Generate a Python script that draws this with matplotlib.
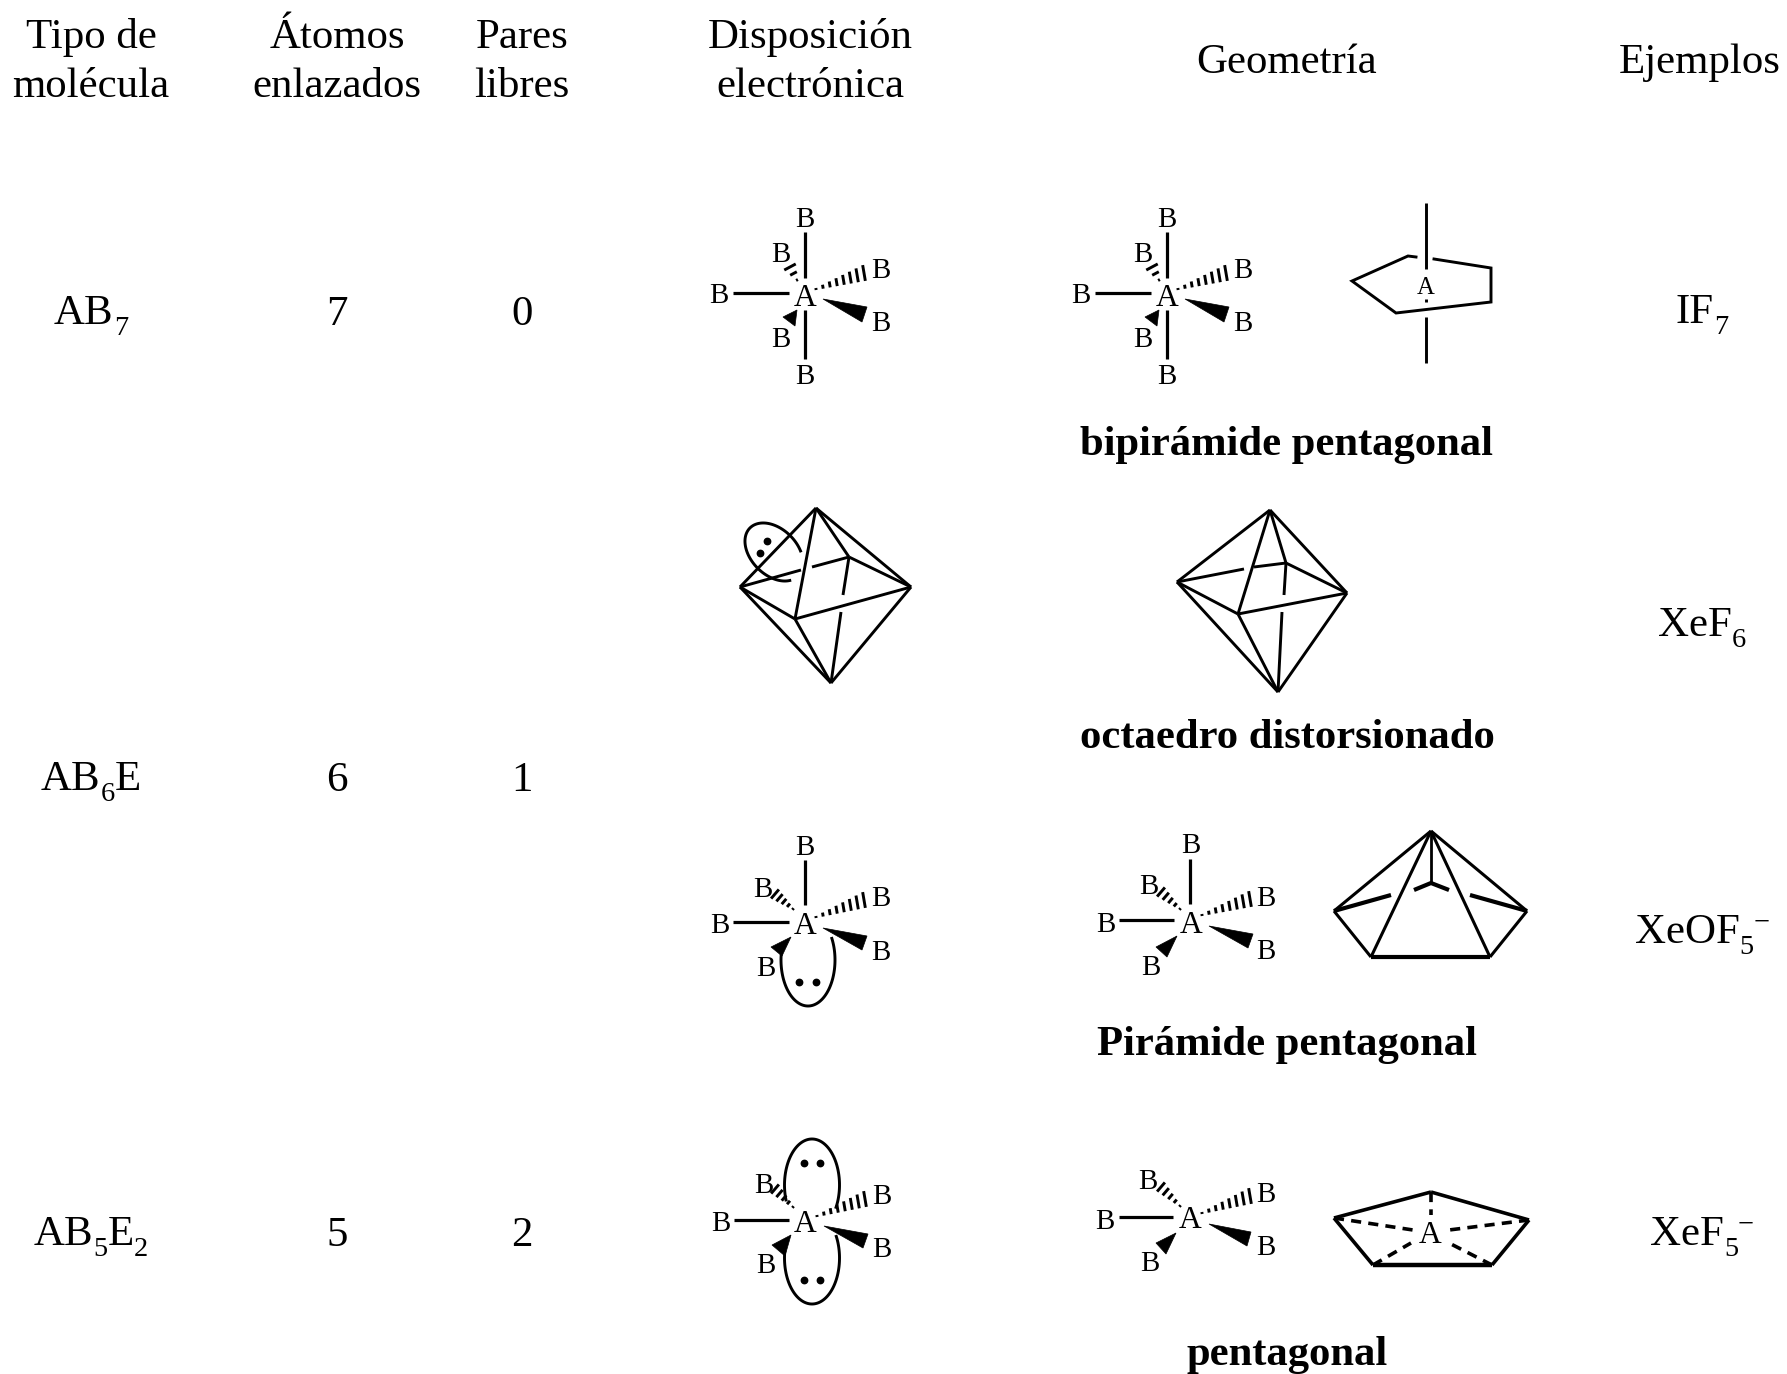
import numpy as np
import matplotlib
matplotlib.use("Agg")
import matplotlib.pyplot as plt
from matplotlib.patches import Polygon
from matplotlib.font_manager import FontProperties

plt.rcParams['font.family'] = ['Liberation Serif', 'DejaVu Serif']

# ---- table content ----
headers = [(91, ["Tipo de", "molécula"]), (337, ["Átomos", "enlazados"]), (522, ["Pares", "libres"]),
           (810, ["Disposición", "electrónica"]), (1287, ["Geometría"]), (1700, ["Ejemplos"])]
# formula runs: text, kind (n normal, d subscript, u superscript)
mol_types = [[("AB", "n"), ("7", "d")],
             [("AB", "n"), ("6", "d"), ("E", "n")],
             [("AB", "n"), ("5", "d"), ("E", "n"), ("2", "d")]]
bonded = ["7", "6", "5"]
lone = ["0", "1", "2"]
row_y = [310, 776, 1231]
examples = [[("IF", "n"), ("7", "d")],
            [("XeF", "n"), ("6", "d")],
            [("XeOF", "n"), ("5", "d"), ("\u2212", "u")],
            [("XeF", "n"), ("5", "d"), ("\u2212", "u")]]
example_y = [309, 622, 929, 1231]
geom_names = ["bipirámide pentagonal", "octaedro distorsionado", "Pirámide pentagonal", "pentagonal"]
geom_y = [441, 734, 1040, 1351]

# ---- molecule drawings (pixel layout of the reference) ----
ab7_disp = dict(
    A=(805, 295),
    B=[(805, 217), (781, 252), (881, 268), (719, 293), (881, 321), (781, 337), (805, 374)],
    solid=[((805, 232), (805, 278)), ((805, 310), (805, 359)), ((733, 293), (789, 293))],
    hash=[((816, 289), (864, 273), 8, (0.17, 1), 8), ((797, 280), (790, 267), 3, (0.88, -0.47), 6.5)],
    wedge=[((823, 299), (867, 307), (862, 322)), ((797, 310), (783, 317), (795, 326))])
ab7_geom = dict(
    A=(1167, 295),
    B=[(1167, 217), (1143, 252), (1243, 268), (1081, 293), (1243, 321), (1143, 337), (1167, 374)],
    solid=[((1167, 232), (1167, 278)), ((1167, 310), (1167, 359)), ((1095, 293), (1151, 293))],
    hash=[((1178, 289), (1226, 273), 8, (0.17, 1), 8), ((1159, 280), (1152, 267), 3, (0.88, -0.47), 6.5)],
    wedge=[((1185, 299), (1229, 307), (1224, 322)), ((1159, 310), (1145, 317), (1157, 326))])
ab6e_disp = dict(
    A=(805, 923),
    B=[(805, 845), (763, 887), (881, 896), (720, 923), (881, 950), (766, 966)],
    solid=[((805, 860), (805, 905)), ((733, 922), (789, 922))],
    hash=[((816, 917), (864, 900), 8, (0.17, 1), 8), ((793, 909), (775, 894), 5, (0.65, -0.76), 6)],
    wedge=[((823, 928), (867, 936), (862, 950)), ((791, 937), (771, 947), (782, 956))])
ab6e_geom = dict(
    A=(1191, 922),
    B=[(1191, 843), (1149, 884), (1266, 896), (1106, 922), (1266, 949), (1151, 965)],
    solid=[((1190, 859), (1190, 904)), ((1119, 920), (1174, 920))],
    hash=[((1202, 915), (1250, 899), 8, (0.17, 1), 8), ((1180, 909), (1161, 892), 5, (0.65, -0.76), 6)],
    wedge=[((1209, 926), (1253, 934), (1248, 948)), ((1177, 936), (1156, 947), (1167, 957))])
ab5e2_disp = dict(
    A=(805, 1221),
    B=[(764, 1183), (882, 1194), (721, 1221), (882, 1247), (766, 1263)],
    solid=[((734, 1220), (789, 1220))],
    hash=[((817, 1216), (865, 1199), 8, (0.17, 1), 8), ((793, 1207), (775, 1189), 5, (0.65, -0.76), 6)],
    wedge=[((824, 1226), (868, 1234), (863, 1248)), ((791, 1235), (772, 1245), (785, 1256))])
ab5e2_geom = dict(
    A=(1190, 1217),
    B=[(1148, 1179), (1266, 1192), (1105, 1219), (1266, 1245), (1150, 1261)],
    solid=[((1119, 1217), (1173, 1217))],
    hash=[((1202, 1213), (1250, 1196), 8, (0.17, 1), 8), ((1180, 1206), (1161, 1187), 5, (0.65, -0.76), 6)],
    wedge=[((1209, 1224), (1251, 1232), (1247, 1246)), ((1176, 1233), (1156, 1243), (1166, 1254))])
sticks = [ab7_disp, ab7_geom, ab6e_disp, ab6e_geom, ab5e2_disp, ab5e2_geom]

# lone-pair lobes: centre x, centre y, semi-axes, tilt, arc start and end (degrees)
lobes = [
    (774, 552, 34, 23, 45, -58, -337),
    (808, 960, 27, 46, 0, -28, 195),
    (812, 1185, 27.5, 46, 0, 161, 389),
    (812, 1258, 27.5, 46, 0, -28, 188),
]
lone_dots = [(767, 541), (760, 553), (799, 982), (816, 982), (804, 1163), (820, 1163), (804, 1280), (820, 1280)]

octa = [
    dict(T=(816, 508), L=(740, 587), R=(911, 587), D=(831, 683), F=(795, 619), K=(849, 557),
         lk=((801, 570), (812, 567)), kd=((843, 595), (841, 612))),
    dict(T=(1270, 510), L=(1177, 582), R=(1347, 593), D=(1278, 692), F=(1238, 614), K=(1286, 563),
         lk=((1244, 569), (1254, 567)), kd=((1284, 595), (1282, 612))),
]

open_pentagon = [(1416, 257), (1408, 256), (1352, 281), (1396, 313), (1491, 302), (1491, 268), (1434, 259)]
axis_segments = [((1426, 203), (1426, 269)), ((1426, 299), (1426, 302)), ((1426, 317), (1426, 363))]
axis_label = (1426, 285)

pyr_apex, pyr_l, pyr_r, pyr_fl, pyr_fr = (1431, 831), (1334, 911), (1527, 911), (1371, 957), (1490, 957)
pyr_hidden = [(pyr_l, (1391, 895)), (pyr_r, (1470, 895)), (pyr_apex, (1431, 884))]
pyr_centre = [(1414, 890), (1431, 883), (1449, 890)]

pl_top, pl_l, pl_r, pl_fl, pl_fr = (1431, 1192), (1334, 1218), (1529, 1220), (1373, 1265), (1492, 1265)
pl_centre = (1430, 1232)
pl_dashes = [(pl_top, (1431, 1215)), (pl_l, (1413, 1230)), (pl_r, (1449, 1230)),
             (pl_fl, (1411, 1243)), (pl_fr, (1449, 1243))]

# ---- drawing ----
W, H = 1787, 1374
fig = plt.figure(figsize=(W / 100, H / 100), dpi=100, facecolor='white')
ax = fig.add_axes([0, 0, 1, 1])
ax.set_xlim(0, W)
ax.set_ylim(H, 0)
ax.axis('off')

MAIN, BOLD, ATOM = 30.9, 30.7, 20.8
LW = 2.1
renderer = fig.canvas.get_renderer()


def txt(x, y, s, size=MAIN, **kw):
    ax.text(x, y, s, fontsize=size, ha='center', va='center_baseline', color='black', **kw)


def formula(xc, y, runs, size=MAIN):
    small = size * 0.66
    base = y + 14
    widths = []
    for s, kind in runs:
        fs = size if kind == 'n' else small
        w, _, _ = renderer.get_text_width_height_descent(
            s, FontProperties(family='Liberation Serif', size=fs), False)
        widths.append(w)
    x = xc - sum(widths) / 2
    for (s, kind), w in zip(runs, widths):
        fs = size if kind == 'n' else small
        yy = base + {'n': 0, 'd': 11, 'u': -13}[kind]
        ax.text(x, yy, s, fontsize=fs, ha='left', va='baseline', color='black')
        x += w


def seg(p, q, lw=LW, **kw):
    ax.plot([p[0], q[0]], [p[1], q[1]], color='black', lw=lw, solid_capstyle='butt', **kw)


def hashed(p, q, n, direction, w1):
    p, q = np.array(p, float), np.array(q, float)
    u = np.array(direction, float)
    u /= np.hypot(*u)
    for t in np.linspace(0, 1, n):
        c = p + (q - p) * t
        w = 1.0 + (w1 - 1.0) * t
        seg(c - u * w, c + u * w, lw=2.1)


def arc(cx, cy, a, b, tilt, t0, t1):
    t = np.radians(np.linspace(t0, t1, 120))
    phi = np.radians(tilt)
    u, v = a * np.cos(t), b * np.sin(t)
    return cx + u * np.cos(phi) - v * np.sin(phi), cy + u * np.sin(phi) + v * np.cos(phi)


for m in sticks:
    txt(*m['A'], "A", ATOM + 2)
    for b in m['B']:
        txt(*b, "B", ATOM)
    for s in m['solid']:
        seg(*s, lw=2.3)
    for h in m['hash']:
        hashed(*h)
    for w in m['wedge']:
        ax.add_patch(Polygon(w, closed=True, fc='black', ec='black', lw=0.5))

for lb in lobes:
    ax.plot(*arc(*lb), color='black', lw=LW)
ax.plot(*zip(*lone_dots), ls='none', marker='o', ms=4.6, color='black')

for o in octa:
    for a, b in ['TL', 'TR', 'TF', 'TK', 'LF', 'FR', 'KR', 'LD', 'FD', 'RD']:
        seg(o[a], o[b])
    seg(o['L'], o['lk'][0]); seg(o['lk'][1], o['K'])
    seg(o['K'], o['kd'][0]); seg(o['kd'][1], o['D'])

pp = np.array(open_pentagon)
ax.plot(pp[:, 0], pp[:, 1], color='black', lw=LW, solid_joinstyle='miter')
for s in axis_segments:
    seg(*s)
txt(*axis_label, "A", ATOM - 3)

for a, b in [(pyr_apex, pyr_l), (pyr_apex, pyr_r), (pyr_apex, pyr_fl), (pyr_apex, pyr_fr),
             (pyr_l, pyr_fl), (pyr_fr, pyr_r)]:
    seg(a, b, lw=2.2)
seg(pyr_fl, pyr_fr, lw=3)
for a, b in pyr_hidden[:2]:
    seg(a, b, lw=3)
seg(*pyr_hidden[2], lw=2)
pc = np.array(pyr_centre)
ax.plot(pc[:, 0], pc[:, 1], color='black', lw=3, solid_capstyle='butt')

for a, b in [(pl_l, pl_top), (pl_top, pl_r), (pl_r, pl_fr), (pl_l, pl_fl)]:
    seg(a, b, lw=2.6)
seg(pl_fl, pl_fr, lw=3.2)
for a, b in pl_dashes:
    ax.plot([a[0], b[0]], [a[1], b[1]], color='black', lw=2.6, ls=(0, (2.8, 2.0)))
txt(*pl_centre, "A", ATOM + 2)

for x, lines in headers:
    ys = [33, 82] if len(lines) == 2 else [58]
    for y, s in zip(ys, lines):
        txt(x, y, s)
for i, y in enumerate(row_y):
    formula(91, y, mol_types[i])
    txt(337, y, bonded[i])
    txt(522, y, lone[i])
for y, runs in zip(example_y, examples):
    formula(1702, y, runs)
for y, s in zip(geom_y, geom_names):
    txt(1287, y, s, size=BOLD, fontweight='bold')

fig.savefig("out.png", dpi=100)
